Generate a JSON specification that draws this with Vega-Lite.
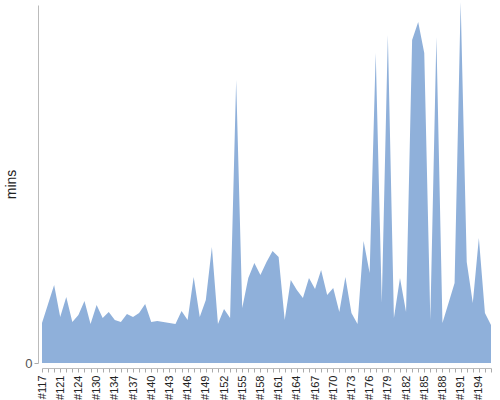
{
  "$schema": "https://vega.github.io/schema/vega-lite/v6.json",
  "description": "Minutes per episode, area chart.",
  "width": 449,
  "height": 358,
  "autosize": "none",
  "padding": {"left": 42, "top": 5, "right": 9, "bottom": 37},
  "config": {"view": {"stroke": null}, "font": "Liberation Sans"},
  "data": {
    "values": [
      {"name": "#117", "mins": 40}, {"name": "#118", "mins": 59}, {"name": "#120", "mins": 78},
      {"name": "#121", "mins": 46}, {"name": "#122", "mins": 66}, {"name": "#123", "mins": 41},
      {"name": "#124", "mins": 48}, {"name": "#126", "mins": 62}, {"name": "#128", "mins": 39},
      {"name": "#130", "mins": 58}, {"name": "#131", "mins": 45}, {"name": "#132", "mins": 51},
      {"name": "#134", "mins": 43}, {"name": "#135", "mins": 41}, {"name": "#136", "mins": 49},
      {"name": "#137", "mins": 46}, {"name": "#138", "mins": 50}, {"name": "#139", "mins": 59},
      {"name": "#140", "mins": 41}, {"name": "#141", "mins": 42}, {"name": "#142", "mins": 41},
      {"name": "#143", "mins": 40}, {"name": "#144", "mins": 39}, {"name": "#145", "mins": 52},
      {"name": "#146", "mins": 43}, {"name": "#147", "mins": 86}, {"name": "#148", "mins": 46},
      {"name": "#149", "mins": 63}, {"name": "#150", "mins": 116}, {"name": "#151", "mins": 39},
      {"name": "#152", "mins": 54}, {"name": "#153", "mins": 45}, {"name": "#154", "mins": 283},
      {"name": "#155", "mins": 55}, {"name": "#156", "mins": 85}, {"name": "#157", "mins": 100},
      {"name": "#158", "mins": 88}, {"name": "#159", "mins": 101}, {"name": "#160", "mins": 112},
      {"name": "#161", "mins": 106}, {"name": "#162", "mins": 43}, {"name": "#163", "mins": 83},
      {"name": "#164", "mins": 73}, {"name": "#165", "mins": 65}, {"name": "#166", "mins": 85},
      {"name": "#167", "mins": 74}, {"name": "#168", "mins": 93}, {"name": "#169", "mins": 68},
      {"name": "#170", "mins": 75}, {"name": "#171", "mins": 51}, {"name": "#172", "mins": 86},
      {"name": "#173", "mins": 50}, {"name": "#174", "mins": 39}, {"name": "#175", "mins": 122},
      {"name": "#176", "mins": 90}, {"name": "#177", "mins": 310}, {"name": "#178", "mins": 60},
      {"name": "#179", "mins": 328}, {"name": "#180", "mins": 45}, {"name": "#181", "mins": 85},
      {"name": "#182", "mins": 51}, {"name": "#183", "mins": 323}, {"name": "#184", "mins": 341},
      {"name": "#185", "mins": 310}, {"name": "#186", "mins": 43}, {"name": "#187", "mins": 326},
      {"name": "#188", "mins": 40}, {"name": "#189", "mins": 60}, {"name": "#190", "mins": 80},
      {"name": "#191", "mins": 361}, {"name": "#192", "mins": 101}, {"name": "#193", "mins": 60},
      {"name": "#194", "mins": 125}, {"name": "#195", "mins": 50}, {"name": "#196", "mins": 38}
    ]
  },
  "mark": {"type": "area", "color": "#8fb0da", "opacity": 1},
  "encoding": {
    "x": {
      "field": "name",
      "type": "ordinal",
      "sort": null,
      "scale": {"type": "point", "padding": 0},
      "axis": {
        "title": null,
        "offset": 5,
        "labelAngle": -90,
        "labelAlign": "right",
        "labelBaseline": "middle",
        "labelFontSize": 11,
        "labelColor": "#222",
        "labelPadding": 3,
        "tickSize": 4,
        "tickColor": "#aaa",
        "domainColor": "#bbb",
        "labelExpr": "indexof(['#117','#121','#124','#130','#134','#137','#140','#143','#146','#149','#152','#155','#158','#161','#164','#167','#170','#173','#176','#179','#182','#185','#188','#191','#194'], datum.label) >= 0 ? datum.label : ''"
      }
    },
    "y": {
      "field": "mins",
      "type": "quantitative",
      "scale": {"domain": [0, 358], "nice": false},
      "axis": {
        "values": [0],
        "title": "mins",
        "grid": false,
        "offset": 4,
        "tickSize": 4,
        "tickColor": "#aaa",
        "domainColor": "#bbb",
        "labelFontSize": 13,
        "labelColor": "#555",
        "titleFontSize": 14,
        "titleFontWeight": "normal",
        "titleColor": "#222",
        "titlePadding": 6
      }
    }
  }
}
